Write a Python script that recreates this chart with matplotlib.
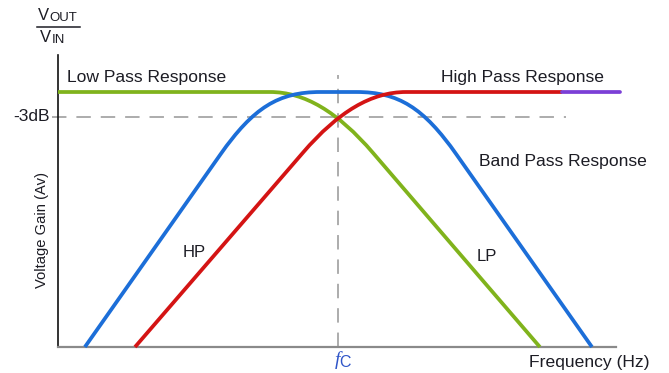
import matplotlib
matplotlib.use("Agg")
import matplotlib.pyplot as plt
import numpy as np
from matplotlib.path import Path
from matplotlib.patches import PathPatch

plt.rcParams['font.family'] = ['Liberation Sans', 'DejaVu Sans']

# frequency axis normalised so that fc = 1, gain normalised so the passband = 1
fc = 1.0
gain_3db = 0.902

# asymptote corners of each response (frequency, gain)
lp_freq = [0.0, 0.938, 1.721]
lp_gain = [1.0, 1.0, 0.0]
hp_freq = [0.275, 1.062, 1.80]
hp_gain = [0.0, 1.0, 1.0]
hp_tail_freq = [1.80, 2.007]
hp_tail_gain = [1.0, 1.0]
bp_freq = [0.096, 0.737, 1.266, 1.907]
bp_gain = [0.0, 1.0, 1.0, 0.0]

# how far the rounded knee reaches either side of each corner (in frequency)
lp_knees = [(0.181, 0.187)]
hp_knees = [(0.187, 0.181)]
bp_knees = [(0.157, 0.20), (0.20, 0.157)]

c_lp = '#80b31c'
c_hp = '#d41414'
c_bp = '#1c6ed8'
c_tail = '#7b3fd6'
c_dash = '#a6a6a6'
c_text = '#1c1c24'


def rounded_path(fx, gy, knees, k=0.7):
    pts = np.column_stack([fx, gy]).astype(float)
    verts = [pts[0]]
    codes = [Path.MOVETO]
    for i in range(1, len(pts) - 1):
        p, c, n = pts[i - 1], pts[i], pts[i + 1]
        before, after = knees[i - 1]
        a = c + (p - c) * before / abs(c[0] - p[0])
        b = c + (n - c) * after / abs(n[0] - c[0])
        verts += [a, a + k * (c - a), b + k * (c - b), b]
        codes += [Path.LINETO, Path.CURVE4, Path.CURVE4, Path.CURVE4]
    verts.append(pts[-1])
    codes.append(Path.LINETO)
    return Path(verts, codes)


W, H = 669, 373
fig = plt.figure(figsize=(W / 100, H / 100), dpi=100)
ax = fig.add_axes([58 / W, 26 / H, 558 / W, 292 / H])
ax.set_xlim(0, 558 / 280)
ax.set_ylim(0, 292 / 255)
ax.set_xticks([])
ax.set_yticks([])
for s in ['top', 'right']:
    ax.spines[s].set_visible(False)
ax.spines['left'].set_color('#111111')
ax.spines['left'].set_linewidth(1.2)
ax.spines['bottom'].set_color('#8a8a8a')
ax.spines['bottom'].set_linewidth(1.6)

# -3dB level and cut-off frequency guides
ax.plot([-0.02, 1.814], [gain_3db, gain_3db], color=c_dash, lw=1.3,
        linestyle=(0, (8, 5.5)), clip_on=False, zorder=1)
ax.plot([fc, fc], [0, 1.067], color=c_dash, lw=1.3,
        linestyle=(0, (8, 5.5)), clip_on=False, zorder=1)

lw = 2.7
ax.add_patch(PathPatch(rounded_path(lp_freq, lp_gain, lp_knees, 0.68), fill=False,
                       edgecolor=c_lp, lw=lw, clip_on=False, zorder=3))
ax.add_patch(PathPatch(rounded_path(bp_freq, bp_gain, bp_knees, 0.75), fill=False,
                       edgecolor=c_bp, lw=lw, clip_on=False, zorder=4))
ax.add_patch(PathPatch(rounded_path(hp_freq, hp_gain, hp_knees, 0.68), fill=False,
                       edgecolor=c_hp, lw=lw, clip_on=False, zorder=5))
ax.plot(hp_tail_freq, hp_tail_gain, color=c_tail, lw=lw, solid_capstyle='round',
        clip_on=False, zorder=6)

fs = 12.6
ax.text(0.032, 1.055, 'Low Pass Response', fontsize=fs, color=c_text, va='center', ha='left')
ax.text(1.368, 1.055, 'High Pass Response', fontsize=fs, color=c_text, va='center', ha='left')
ax.text(1.504, 0.729, 'Band Pass Response', fontsize=fs, color=c_text, va='center', ha='left')
ax.text(-0.029, gain_3db, '-3dB', fontsize=fs, color=c_text, va='center', ha='right')
ax.text(0.446, 0.369, 'HP', fontsize=12, color=c_text, va='center', ha='left')
ax.text(1.496, 0.353, 'LP', fontsize=12, color=c_text, va='center', ha='left')
ax.text(2.114, -0.059, 'Frequency (Hz)', fontsize=fs, color=c_text, va='center', ha='right',
        clip_on=False)
ax.text(-0.058, 0.46, 'Voltage Gain (Av)', fontsize=10.6, color=c_text, rotation=90,
        va='center', ha='center')

# cut-off frequency label
ax.text(fc + 0.008, -0.052, 'f', fontsize=14, color='#2f55c8', family='Liberation Serif',
        style='italic', va='center', ha='right')
ax.text(fc + 0.006, -0.062, 'C', fontsize=11.5, color='#2f55c8', va='center', ha='left')

# Vout / Vin ratio in the corner
fig.text(38 / W, 1 - 16 / H, 'V', fontsize=12, color=c_text, va='center', ha='left')
fig.text(49 / W, 1 - 18 / H, 'OUT', fontsize=9.5, color=c_text, va='center', ha='left')
fig.lines.append(plt.Line2D([37 / W, 80 / W], [1 - 27 / H, 1 - 27 / H], color=c_text,
                            lw=1.1, transform=fig.transFigure))
fig.text(40 / W, 1 - 38 / H, 'V', fontsize=12, color=c_text, va='center', ha='left')
fig.text(52 / W, 1 - 40 / H, 'IN', fontsize=9.5, color=c_text, va='center', ha='left')

fig.savefig('out.png', dpi=100)
